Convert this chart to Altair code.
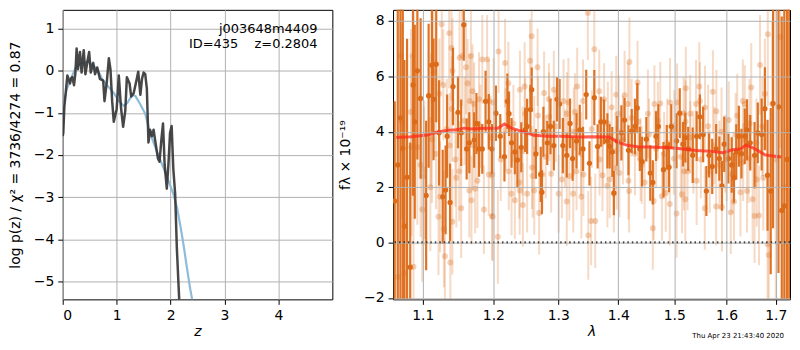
import altair as alt
import pandas as pd

# ---------------- left panel: log p(z) ----------------
pz_z = [0.00, 0.01, 0.03, 0.055, 0.086, 0.11, 0.135, 0.155, 0.178, 0.21, 0.235, 0.258, 0.283,
        0.32, 0.35, 0.39, 0.42, 0.455, 0.49, 0.52, 0.566, 0.60, 0.64, 0.69, 0.75, 0.775, 0.82,
        0.855, 0.885, 0.917, 0.947, 0.975, 1.00, 1.04, 1.08, 1.12, 1.16, 1.19, 1.24, 1.27,
        1.315, 1.36, 1.40, 1.44, 1.47, 1.50, 1.53, 1.56, 1.59, 1.62, 1.655, 1.685, 1.72,
        1.765, 1.795, 1.83, 1.86, 1.89, 1.93, 1.96, 1.99, 2.02, 2.05, 2.085, 2.116, 2.16, 2.20]
pz_val = [-1.55, -1.48, -0.85, -0.53, -0.11, -0.20, -0.30, -0.18, -0.15, -0.34, -0.05, 0.53, 0.04,
          0.45, -0.04, 0.49, -0.08, 0.20, 0.45, -0.04, 0.19, -0.08, 0.08, -0.19, -0.23, -0.72, -0.23,
          0.30, 0.04, -0.72, -1.21, -1.05, -0.91, -0.11, -0.87, -1.33, -0.95, -0.15, -0.30, -0.61,
          -0.53, -0.27, -0.02, -0.57, -0.19, -0.04, -0.08, -0.42, -1.70, -1.40, -1.55, -1.40, -1.70,
          -2.08, -2.16, -1.63, -1.25, -2.23, -2.80, -2.23, -1.48, -1.31, -2.31, -2.92, -4.20, -5.43, -6.50]

prior_z = [0.00, 0.03, 0.07, 0.15, 0.24, 0.33, 0.455, 0.55, 0.64, 0.73, 0.82, 0.95, 1.04, 1.13,
           1.20, 1.29, 1.35, 1.44, 1.53, 1.62, 1.75, 1.87, 1.96, 2.05, 2.12, 2.18, 2.24, 2.30,
           2.36, 2.40, 2.45]
prior_val = [-1.10, -0.75, -0.45, -0.19, 0.08, 0.17, 0.23, 0.15, 0.04, -0.19, -0.34, -0.53, -0.72,
             -0.83, -0.76, -0.57, -0.60, -0.80, -1.02, -1.48, -1.93, -2.31, -2.61, -2.92, -3.25,
             -3.67, -4.13, -4.65, -5.15, -5.43, -5.90]

z_ticks = [0, 1, 2, 3, 4]
logp_ticks = [-5, -4, -3, -2, -1, 0, 1]
annot_text = ["j003648m4409", "ID=435\u00a0\u00a0\u00a0\u00a0z=0.2804"]

# ---------------- right panel: spectrum ----------------
dark_lam = [1.0625, 1.0665, 1.0700, 1.0732, 1.0753, 1.0788, 1.0830, 1.0869, 1.0891, 1.0926, 1.0970,
            1.1045, 1.1079, 1.1124, 1.1146, 1.1183, 1.1223, 1.1273, 1.1313, 1.1335, 1.1376, 1.1417,
            1.1487, 1.1533, 1.1570, 1.1611, 1.1649, 1.1719, 1.1752, 1.1790, 1.1837, 1.1885, 1.1932,
            1.1980, 1.2038, 1.2102, 1.2165, 1.2209, 1.2234, 1.2272, 1.2322, 1.2361, 1.2420, 1.2480,
            1.2510, 1.2561, 1.2581, 1.2646, 1.2722, 1.2740, 1.2764, 1.2825, 1.2876, 1.2929, 1.2980,
            1.3022, 1.3074, 1.3137, 1.3190, 1.3232, 1.3296, 1.3349, 1.3403, 1.3456, 1.3510, 1.3591,
            1.3647, 1.3701, 1.3756, 1.3812, 1.3851, 1.3896, 1.3923, 1.3980, 1.4053, 1.4108, 1.4176,
            1.4233, 1.4290, 1.4330, 1.4376, 1.4416, 1.4492, 1.4562, 1.4608, 1.4667, 1.4708, 1.4802,
            1.4862, 1.4903, 1.4945, 1.5042, 1.5102, 1.5162, 1.5206, 1.5260, 1.5345, 1.5420, 1.5482,
            1.5544, 1.5606, 1.5657, 1.5719, 1.5795, 1.5858, 1.5909, 1.5953, 1.6036, 1.6101, 1.6147,
            1.6192, 1.6244, 1.6296, 1.6363, 1.6408, 1.6474, 1.6562, 1.6628, 1.6707, 1.6774, 1.6829,
            1.6895, 1.6944, 1.7058, 1.7127, 1.7181, 1.7240, 1.7290]
dark_flux = [1.50, 2.80, 4.50, 3.40, 0.59, 2.36, -0.89, 5.69, 4.36, 6.20, 5.20,
             1.70, 5.30, 6.40, 5.17, 6.44, 3.96, 1.65, 1.90, 3.84, 1.45, 5.63,
             4.70, 3.96, 7.86, 3.38, 3.60, 3.70, 4.30, 3.38, 3.38, 5.10, 4.36,
             3.38, 4.67, 3.84, 3.10, 5.10, 4.65, 3.60, 3.27, 2.98, 3.44, 4.07,
             4.19, 4.80, 5.52, 3.20, 2.46, 1.82, 4.00, 3.60, 4.19, 3.50, 5.17,
             5.00, 3.50, 3.15, 4.30, 3.03, 3.67, 4.07, 3.38, 5.34, 2.86, 5.23,
             3.47, 4.36, 4.36, 3.67, 3.47, 3.27, 1.79, 3.67, 3.96, 4.42, 3.33,
             4.02, 4.19, 4.86, 3.38, 2.92, 3.73, 2.51, 2.17, 3.84, 4.19, 2.63,
             3.44, 2.72, 4.19, 3.67, 4.67, 3.55, 3.79, 3.38, 3.15, 3.84, 4.54,
             3.90, 1.86, 3.15, 2.75, 3.38, 3.03, 2.05, 3.55, 3.03, 2.80, 2.34,
             3.27, 3.84, 3.21, 3.84, 4.07, 3.60, 3.15, 3.96, 3.90, 4.83, 2.43,
             1.86, 5.02, 4.90, 1.16, 1.32, 3.00, 3.00]
dark_err = [3.6, 8.0, 8.0, 7.0, 6.0, 5.0, 4.5, 4.0, 3.5, 3.2, 2.9,
            2.7, 2.6, 2.4, 2.2, 2.1, 1.9, 1.7, 1.6, 1.5, 1.4, 1.4,
            1.3, 1.2, 1.3, 1.1, 1.1, 1.0, 1.1, 1.0, 0.9, 1.1, 1.0,
            0.9, 1.0, 0.8, 0.9, 1.0, 0.8, 0.9, 0.8, 1.0, 0.9, 0.8,
            1.0, 0.9, 0.8, 0.9, 1.0, 0.8, 0.9, 0.8, 1.0, 0.9, 0.8,
            0.9, 1.0, 0.8, 0.9, 0.8, 1.0, 0.9, 0.8, 0.9, 0.8, 1.0,
            0.8, 0.9, 0.8, 1.0, 0.8, 0.9, 0.8, 0.9, 1.0, 0.8, 0.9,
            0.8, 1.0, 0.9, 0.8, 0.9, 0.8, 1.0, 0.8, 0.9, 0.8, 1.0,
            0.8, 0.9, 0.8, 1.0, 0.9, 0.8, 0.9, 0.8, 1.0, 0.9, 0.8,
            1.0, 0.9, 0.8, 1.0, 0.9, 0.8, 0.9, 1.0, 0.9, 1.0, 0.9,
            1.0, 1.1, 0.9, 1.0, 1.1, 1.0, 1.2, 1.1, 1.3, 1.5, 2.0,
            3.0, 4.5, 6.0, 7.0, 8.0, 9.0, 9.0]

light_lam = [1.0710, 1.0861, 1.0970, 1.1013, 1.0992, 1.1102, 1.1237, 1.1260, 1.1363, 1.1395,
             1.1281, 1.1510, 1.1546, 1.1602, 1.1672, 1.1625, 1.1837, 1.1908, 1.1790, 1.1719,
             1.1400, 1.1227, 1.1110, 1.1124, 1.1372, 1.1505, 1.1464, 1.1649, 1.1680, 1.1733,
             1.1861, 1.1766, 1.1932, 1.1980, 1.1533, 1.1304, 1.1380, 1.1214, 1.1290, 1.1408,
             1.0874, 1.0753, 1.0666, 1.0720, 1.0839, 1.0845, 1.0926, 1.1020, 1.1146, 1.1410,
             1.1655, 1.1696, 1.1935,
             1.2077, 1.2175, 1.2581, 1.2555, 1.2672, 1.3483, 1.1990, 1.2067, 1.2272, 1.2322,
             1.2396, 1.2445, 1.2510, 1.2621, 1.2697, 1.2887, 1.2749, 1.2586, 1.3137, 1.3243,
             1.3376, 1.3490, 1.3006, 1.2224, 1.2400, 1.2472, 1.2775, 1.2850, 1.2929, 1.3085,
             1.3164, 1.3307, 1.3403, 1.2003, 1.1985, 1.2230, 1.2390, 1.2596, 1.3058, 1.3179,
             1.3296, 1.3410, 1.2480, 1.2680, 1.2855, 1.3140, 1.3270, 1.2180,
             1.3591, 1.4193, 1.4336, 1.3537, 1.3607, 1.4608, 1.3923, 1.3812, 1.3729, 1.3851,
             1.4018, 1.4176, 1.4188, 1.4463, 1.4625, 1.4773, 1.4844, 1.4917, 1.5042, 1.5144,
             1.5206, 1.3963, 1.4108, 1.3674, 1.3756, 1.4637, 1.4743, 1.4922, 1.5053, 1.5175,
             1.5210, 1.4347, 1.4520, 1.4165, 1.4006, 1.3885, 1.3970, 1.4410, 1.3735, 1.4290,
             1.4667, 1.4814, 1.4993, 1.5180,
             1.5215, 1.5470, 1.5482, 1.5732, 1.5248, 1.5420, 1.5575, 1.5795, 1.5909, 1.6082,
             1.6147, 1.6276, 1.6408, 1.6522, 1.6562, 1.6653, 1.6829, 1.6855, 1.6673, 1.6835,
             1.7099, 1.6324, 1.6363, 1.6494, 1.6774, 1.6925, 1.5800, 1.5297, 1.5408, 1.5580,
             1.6043, 1.6212, 1.5858, 1.6115, 1.5670, 1.6606, 1.6741, 1.5358, 1.5974, 1.6441,
             1.7000, 1.7200, 1.7260,
             1.1180, 1.1330, 1.1450, 1.1580, 1.1700, 1.1810, 1.1960, 1.2110, 1.2300, 1.2440,
             1.2620, 1.2800, 1.2960, 1.3110, 1.3250, 1.3370, 1.3550, 1.3680, 1.3820, 1.3950,
             1.4080, 1.4230, 1.4390, 1.4540, 1.4700, 1.4870, 1.5000, 1.5120, 1.5300, 1.5500,
             1.5640, 1.5760, 1.5900, 1.6000, 1.6180, 1.6330, 1.6460, 1.6600, 1.6720]
light_flux = [6.73, 6.73, 2.80, 2.40, 1.19, 2.00, 1.65, 7.88, 7.56, 7.02,
              5.69, 6.67, 6.73, 6.33, 6.73, 5.75, 6.61, 6.61, 5.17, 5.00,
              4.82, 5.37, 4.42, 3.73, 3.50, 2.57, 2.34, 1.88, 1.53, 1.94,
              1.19, 2.23, 2.46, 0.96, 1.24, -0.49, -0.72, 0.93, 0.49, 0.75,
              -0.87, -1.12, -1.24, 4.36, 4.71, 3.44, 3.44, 2.63, 6.15, 6.20,
              5.11, 5.46, 5.11,
              6.90, 6.48, 7.45, 6.56, 6.33, 8.29, 0.93, 0.21, 1.76, 1.53,
              1.88, 1.36, 1.76, 1.88, 1.07, 2.48, 2.46, 2.71, 1.48, 1.76,
              1.65, 0.26, 1.76, 5.75, 5.52, 5.63, 5.40, 5.17, 5.52, 5.11,
              5.06, 5.63, 5.11, 5.06, 2.46, 2.57, 2.17, 2.40, 2.28, 2.40,
              2.57, 2.46, 4.65, 4.59, 4.54, 4.65, 4.71, 4.07,
              6.98, 6.52, 5.78, 0.78, 0.78, 0.52, 1.76, 2.05, 2.43, 2.28,
              2.51, 2.23, 1.86, 2.17, 1.50, 1.67, 1.79, 1.39, 1.05, 1.74,
              1.56, 5.34, 5.32, 5.46, 5.17, 5.00, 5.02, 5.06, 5.06, 4.67,
              4.36, 4.36, 4.65, 5.00, 4.65, 4.88, 2.69, 2.80, 3.61, 3.21,
              3.38, 3.21, 3.03, 2.57,
              5.57, 5.63, 5.11, 5.44, 2.57, 2.23, 1.24, 1.30, 1.28, 1.09,
              1.47, 1.82, 1.86, 1.56, 0.96, 0.98, -0.06, -0.45, 6.41, 7.52,
              7.42, 5.11, 5.00, 5.60, 5.37, 5.00, 4.74, 4.65, 5.00, 4.88,
              4.42, 4.59, 2.80, 2.46, 2.57, 2.28, 2.34, 3.27, 3.21, 3.03,
              3.00, 2.00, 4.00,
              3.20, 4.10, 3.00, 4.40, 3.50, 4.20, 3.80, 3.00, 4.30, 3.30,
              3.90, 3.10, 4.20, 3.40, 4.00, 3.20, 4.10, 3.00, 4.30, 3.30,
              3.70, 4.50, 3.00, 3.90, 4.40, 3.60, 4.10, 3.10, 3.80, 3.00,
              4.20, 3.50, 4.00, 3.00, 3.90, 2.90, 4.30, 3.60, 4.20]
light_err = [3.5, 3.0, 2.6, 2.5, 2.6, 2.3, 2.0, 2.2, 2.0, 1.9,
             2.0, 1.8, 1.8, 1.7, 1.7, 1.6, 1.6, 1.6, 1.7, 1.5,
             1.9, 2.0, 2.4, 2.3, 1.9, 1.8, 1.8, 1.7, 1.6, 1.6,
             1.6, 1.7, 1.5, 1.6, 1.8, 2.0, 2.0, 2.1, 2.1, 1.9,
             3.0, 3.5, 4.0, 3.5, 3.0, 3.2, 2.8, 2.5, 2.2, 1.9,
             1.7, 1.7, 1.5,
             1.5, 1.6, 1.7, 1.5, 1.4, 1.7, 1.6, 1.7, 1.5, 1.4,
             1.6, 1.5, 1.4, 1.6, 1.5, 1.4, 1.3, 1.5, 1.6, 1.4,
             1.5, 1.6, 1.4, 1.5, 1.4, 1.6, 1.5, 1.3, 1.4, 1.5,
             1.6, 1.4, 1.5, 1.6, 1.5, 1.4, 1.3, 1.5, 1.4, 1.6,
             1.4, 1.5, 1.3, 1.4, 1.6, 1.5, 1.4, 1.5,
             1.7, 1.6, 1.5, 1.6, 1.7, 1.5, 1.4, 1.5, 1.3, 1.4,
             1.6, 1.4, 1.5, 1.3, 1.4, 1.6, 1.4, 1.5, 1.6, 1.4,
             1.5, 1.4, 1.6, 1.5, 1.3, 1.4, 1.5, 1.6, 1.4, 1.3,
             1.5, 1.4, 1.6, 1.5, 1.4, 1.3, 1.5, 1.4, 1.6, 1.5,
             1.4, 1.5, 1.3, 1.4,
             1.5, 1.6, 1.4, 1.5, 1.4, 1.6, 1.5, 1.4, 1.6, 1.5,
             1.4, 1.6, 1.5, 1.6, 1.7, 1.8, 2.5, 2.8, 1.8, 2.6,
             4.0, 1.5, 1.4, 1.6, 2.0, 3.0, 1.5, 1.4, 1.6, 1.5,
             1.4, 1.5, 1.6, 1.4, 1.5, 1.7, 1.9, 1.5, 1.4, 1.6,
             6.0, 6.0, 6.0,
             2.0, 1.8, 1.7, 1.6, 1.6, 1.5, 1.5, 1.5, 1.4, 1.6,
             1.4, 1.5, 1.3, 1.4, 1.6, 1.5, 1.4, 1.3, 1.5, 1.4,
             1.6, 1.4, 1.5, 1.3, 1.4, 1.6, 1.4, 1.5, 1.3, 1.4,
             1.5, 1.4, 1.6, 1.5, 1.5, 1.4, 1.6, 1.6, 1.8]

model_lam = [1.0645, 1.0839, 1.1058, 1.1192, 1.1326, 1.1464, 1.1579, 1.1672, 1.1885, 1.2067,
             1.2165, 1.2272, 1.2420, 1.2621, 1.2825, 1.3032, 1.3349, 1.3565, 1.3840, 1.4006,
             1.4176, 1.4347, 1.4696, 1.4934, 1.5175, 1.5420, 1.5670, 1.5922, 1.6115, 1.6276,
             1.6389, 1.6574, 1.6774, 1.6908, 1.7113]
model_flux = [3.79, 3.82, 3.88, 3.98, 4.05, 4.07, 4.13, 4.10, 4.13, 4.13,
              4.28, 4.13, 4.02, 3.87, 3.84, 3.84, 3.81, 3.82, 3.81, 3.61,
              3.50, 3.46, 3.44, 3.42, 3.38, 3.32, 3.30, 3.24, 3.35, 3.38,
              3.52, 3.38, 3.17, 3.13, 3.09]

lam_ticks = [1.1, 1.2, 1.3, 1.4, 1.5, 1.6, 1.7]
flux_ticks = [-2, 0, 2, 4, 6, 8]
stamp_text = ["Thu Apr 23 21:43:40 2020"]

FONT = "DejaVu Sans"
ORANGE = "#dc6b19"
H = 291

axis_style = dict(grid=True, gridColor="#b0b0b0", gridWidth=1, domain=False,
                  tickColor="black", tickSize=5, tickWidth=1, labelPadding=4,
                  labelFont=FONT, labelFontSize=14, labelColor="black",
                  titleFont=FONT, titleFontSize=14, titleColor="black",
                  titleFontWeight="normal")

# ---- left
zx = alt.X("z:Q", scale=alt.Scale(domain=[0, 5], nice=False, zero=False),
           axis=alt.Axis(values=z_ticks, format="d", title="z", titleFontStyle="italic",
                         titlePadding=2, **axis_style))
zy = alt.Y("v:Q", scale=alt.Scale(domain=[-5.43, 1.45], nice=False, zero=False),
           axis=alt.Axis(values=logp_ticks, format="d",
                         title="log p(z) / χ² = 3736/4274 = 0.87", titlePadding=10,
                         minExtent=30, maxExtent=30, **axis_style))

prior_df = pd.DataFrame({"z": prior_z, "v": prior_val})
pz_df = pd.DataFrame({"z": pz_z, "v": pz_val})

prior_line = alt.Chart(prior_df).mark_line(color="#8fbbda", strokeWidth=2.2, clip=True).encode(
    x=zx, y=zy, order="z:Q")
pz_line = alt.Chart(pz_df).mark_line(color="#333333", opacity=0.9, strokeWidth=2.5,
                                     clip=True, strokeJoin="round").encode(
    x=zx, y=zy, order="z:Q")

lbl_df = pd.DataFrame({"t": annot_text, "yy": [19, 34]})
labels = alt.Chart(lbl_df).mark_text(align="right", baseline="middle", font=FONT,
                                     fontSize=13, color="black").encode(
    x=alt.value(256), y=alt.Y("yy:Q", scale=None), text="t:N")

left = alt.layer(prior_line, pz_line, labels).properties(width=271, height=H)

# ---- right
lx = alt.X("lam:Q", scale=alt.Scale(type="log", domain=[1.0603, 1.7302], nice=False),
           axis=alt.Axis(values=lam_ticks, format=".1f", title="λ", titleFontStyle="italic",
                         titlePadding=2, zindex=1, **axis_style))
ly = alt.Y("lo:Q", scale=alt.Scale(domain=[-2.05, 8.4], nice=False, zero=False),
           axis=alt.Axis(values=flux_ticks, format="d", title="fλ × 10⁻¹⁹",
                         titlePadding=11, zindex=1, minExtent=30, maxExtent=30, **axis_style))
fy = alt.Y("f:Q", scale=alt.Scale(domain=[-2.05, 8.4], nice=False, zero=False))

light_df = pd.DataFrame({"lam": light_lam, "f": light_flux, "e": light_err})
dark_df = pd.DataFrame({"lam": dark_lam, "f": dark_flux, "e": dark_err})
model_df = pd.DataFrame({"lam": model_lam, "f": model_flux})

light_bars = alt.Chart(light_df).transform_calculate(
    lo="datum.f - datum.e", hi="datum.f + datum.e").mark_rule(
    color=ORANGE, opacity=0.25, strokeWidth=2, clip=True).encode(x=lx, y=ly, y2="hi:Q")
light_pts = alt.Chart(light_df).mark_circle(color=ORANGE, opacity=0.3, size=36, clip=True).encode(
    x=lx, y=fy)
dark_bars = alt.Chart(dark_df).transform_calculate(
    lo="datum.f - datum.e", hi="datum.f + datum.e").mark_rule(
    color=ORANGE, opacity=0.95, strokeWidth=2.2, clip=True).encode(x=lx, y=ly, y2="hi:Q")
dark_pts = alt.Chart(dark_df).mark_circle(color=ORANGE, opacity=1, size=28, clip=True).encode(
    x=lx, y=fy)
model_line = alt.Chart(model_df).mark_line(color="#ff2a1a", opacity=0.75, strokeWidth=3,
                                           clip=True).encode(x=lx, y=fy, order="lam:Q")
zero_line = alt.Chart(pd.DataFrame({"f": [0.0]})).mark_rule(
    color="black", strokeDash=[1.5, 3], strokeWidth=2).encode(y=fy)

stamp = alt.Chart(pd.DataFrame({"t": stamp_text})).mark_text(
    align="right", baseline="middle", font=FONT, fontSize=7, color="black").encode(
    x=alt.value(393), y=alt.value(H + 37), text="t:N")

right = alt.layer(light_bars, light_pts, dark_bars, dark_pts, model_line, zero_line,
                  stamp).properties(width=399, height=H)

chart = alt.hconcat(left, right, spacing=4).properties(
    padding={"left": 0, "top": 0, "right": 0, "bottom": 0},
    background="white"
).configure_view(stroke="black", strokeWidth=1)

chart.save("out.html", embed_options={"renderer": "svg", "actions": False})
